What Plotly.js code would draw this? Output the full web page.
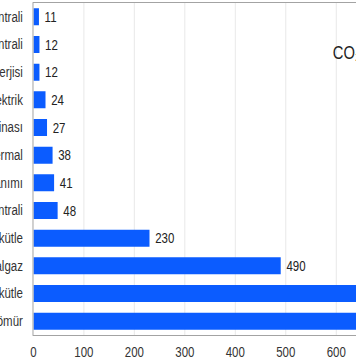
<!DOCTYPE html>
<html>
<head>
<meta charset="utf-8">
<script src="https://cdn.plot.ly/plotly-3.0.1.min.js"></script>
<style>
  html, body { margin: 0; padding: 0; overflow: hidden; width: 356px; height: 364px; background: #fff; }
  #chart { position: absolute; left: -147.4px; top: 0; width: 774px; height: 364px;
           transform: scaleX(0.82); transform-origin: 0 0; }
</style>
</head>
<body>
<div id="chart"></div>
<script>
// Categories listed bottom -> top (Plotly draws first category at the bottom)
const categories = [
  "Kömür",
  "Karışık biyokütle",
  "Doğalgaz",
  "Özel biyokütle",
  "Güneş enerjisi santrali",
  "Çatı tipi güneş paneli kullanımı",
  "Jeotermal",
  "Güneş ısıl santral binası",
  "Hidroelektrik",
  "Deniz rüzgar enerjisi",
  "Nükleer santrali",
  "Kara rüzgar santrali"
];
const values = [820, 740, 490, 230, 48, 41, 38, 27, 24, 12, 12, 11];
const xTicks = [0, 100, 200, 300, 400, 500, 600, 700, 800, 900];
const legendText = "CO₂ emisyonu (gCO₂/kWh)";

const FONT = "'Liberation Sans', Arial, sans-serif";

const trace = {
  type: "bar",
  orientation: "h",
  y: categories,
  x: values,
  marker: { color: "#0b5cff" },
  texttemplate: "\u00a0%{x}",
  textposition: "outside",
  constraintext: "none",
  cliponaxis: false,
  textfont: { family: FONT, size: 14, color: "#222" },
  hoverinfo: "none"
};

const layout = {
  width: 774,
  height: 364,
  margin: { l: 220, r: 0, t: 3, b: 29 },
  paper_bgcolor: "#fff",
  plot_bgcolor: "#fff",
  bargap: 0.385,
  showlegend: false,
  font: { family: FONT, size: 14, color: "#222" },
  xaxis: {
    range: [0, 900],
    tickvals: xTicks,
    ticktext: xTicks.map(String),
    showgrid: true,
    gridcolor: "#e6e6e6",
    gridwidth: 1,
    zeroline: false,
    showline: true,
    linecolor: "#999",
    linewidth: 1,
    mirror: true,
    ticks: "outside",
    ticklen: 4,
    tickcolor: "rgba(0,0,0,0)",
    tickfont: { family: FONT, size: 14, color: "#333" },
    fixedrange: true
  },
  yaxis: {
    type: "category",
    automargin: false,
    showgrid: false,
    zeroline: false,
    showline: true,
    linecolor: "#999",
    linewidth: 1,
    ticks: "outside",
    ticklen: 4,
    tickcolor: "rgba(0,0,0,0)",
    ticklabelstandoff: 5,
    tickfont: { family: FONT, size: 14, color: "#333" },
    fixedrange: true
  },
  annotations: [{
    xref: "paper", yref: "paper",
    x: 0.655, y: 0.849,
    xanchor: "left", yanchor: "middle",
    text: legendText,
    showarrow: false,
    font: { family: FONT, size: 18, color: "#222" }
  }]
};

Plotly.newPlot("chart", [trace], layout, { displayModeBar: false, staticPlot: true });
</script>
</body>
</html>
